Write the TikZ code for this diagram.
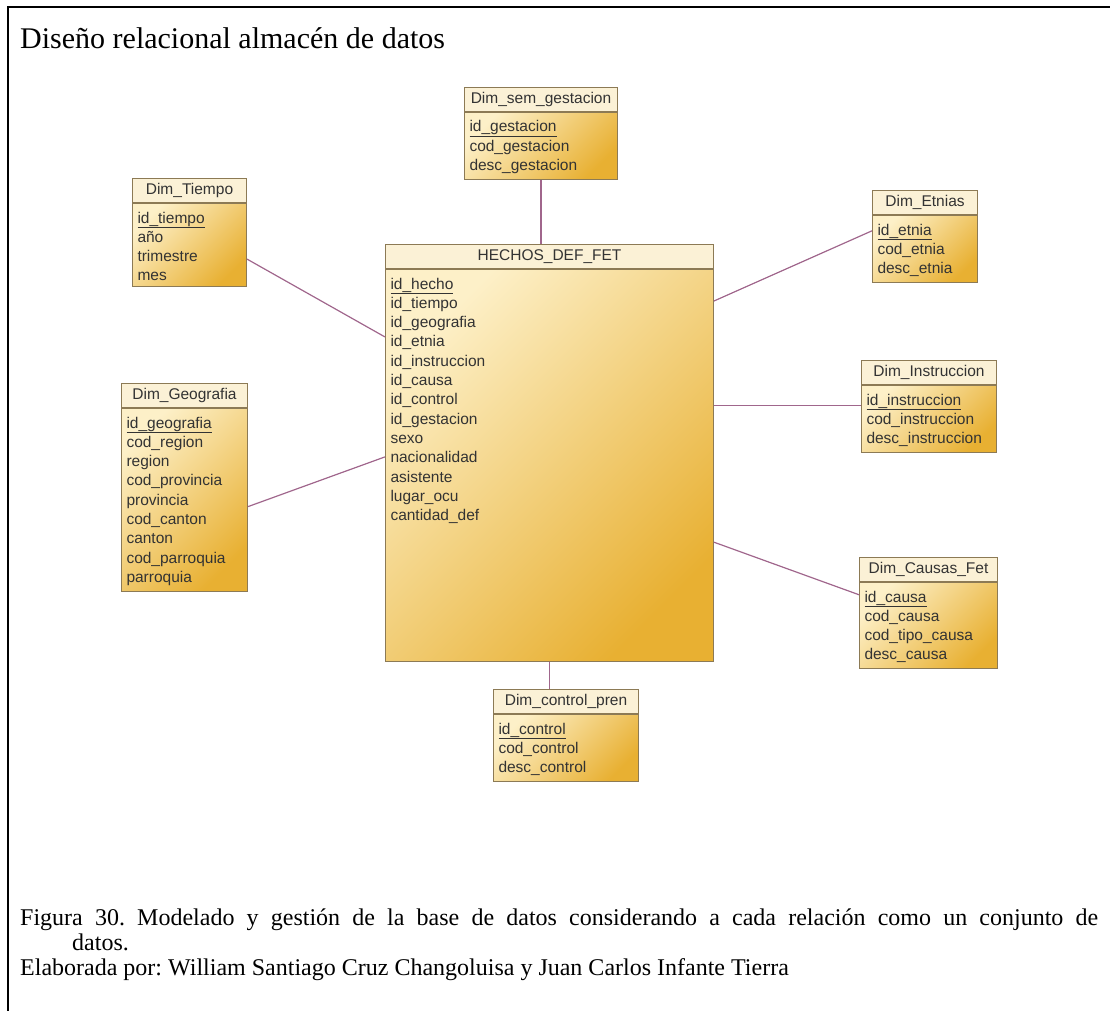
\documentclass[tikz,border=0pt]{standalone}
\usepackage{fontspec}
\setmainfont{Liberation Serif}
\newfontfamily\tablafont{Liberation Sans}
\usepackage{tikz}
\usetikzlibrary{positioning}
\definecolor{borde}{HTML}{8C7A55}
\definecolor{crema}{HTML}{FBF1D6}
\definecolor{oroclaro}{HTML}{FDF0C8}
\definecolor{orooscuro}{HTML}{E8B032}
\definecolor{lila}{HTML}{A0668C}
\definecolor{texto}{HTML}{333333}
\frenchspacing

\begin{document}
\begin{tikzpicture}[
    x=1pt, y=-1pt,
    cab/.style={draw=borde, fill=crema, line width=1pt, anchor=north west,
                minimum height=24pt, inner sep=0pt, text=texto,
                font=\tablafont\fontsize{15.5}{19.3}\selectfont},
    cuerpo/.style={draw=borde, line width=1pt, top color=oroclaro, bottom color=orooscuro,
                   shading angle=45, align=left, inner xsep=5pt, inner ysep=6pt,
                   text height=13.5pt, text=texto,
                   font=\tablafont\fontsize{15.5}{19.3}\selectfont},
    relacion/.style={draw=lila, line width=1.2pt},
    leyenda/.style={anchor=base west, inner sep=0pt, font=\fontsize{24}{25}\selectfont}
  ]
    \useasboundingbox (0,0) rectangle (1110,1011);
    \draw[line width=2.5pt] (8,1011) -- (8,7) -- (1110,7);

    \node[anchor=base west, inner sep=0pt, font=\fontsize{30}{36}\selectfont] (titulo) at (20,49)
      {Diseño relacional almacén de datos};

    \node[cab, minimum width=328pt] (hechos-cab) at (385,244) {HECHOS\_DEF\_FET};
    \node[cuerpo, below=0pt of hechos-cab, text width=318pt, text depth=366.5pt] (hechos)
      {\underline{id\_hecho}\\id\_tiempo\\id\_geografia\\id\_etnia\\id\_instruccion\\id\_causa\\
       id\_control\\id\_gestacion\\sexo\\nacionalidad\\asistente\\lugar\_ocu\\cantidad\_def};

    \node[cab, minimum width=153pt] (gest-cab) at (464,87) {Dim\_sem\_gestacion};
    \node[cuerpo, below=0pt of gest-cab, text width=143pt, text depth=41.6pt] (gest)
      {\underline{id\_gestacion}\\cod\_gestacion\\desc\_gestacion};

    \node[cab, minimum width=114pt] (tiempo-cab) at (132,178) {Dim\_Tiempo};
    \node[cuerpo, below=0pt of tiempo-cab, text width=104pt, text depth=57pt] (tiempo)
      {\underline{id\_tiempo}\\año\\trimestre\\mes};

    \node[cab, minimum width=105pt] (etnias-cab) at (872,190) {Dim\_Etnias};
    \node[cuerpo, below=0pt of etnias-cab, text width=95pt, text depth=41.6pt] (etnias)
      {\underline{id\_etnia}\\cod\_etnia\\desc\_etnia};

    \node[cab, minimum width=135pt] (instr-cab) at (861,360) {Dim\_Instruccion};
    \node[cuerpo, below=0pt of instr-cab, text width=125pt, text depth=41.6pt] (instr)
      {\underline{id\_instruccion}\\cod\_instruccion\\desc\_instruccion};

    \node[cab, minimum width=126pt] (geo-cab) at (121,383) {Dim\_Geografia};
    \node[cuerpo, below=0pt of geo-cab, text width=116pt, text depth=157.4pt] (geo)
      {\underline{id\_geografia}\\cod\_region\\region\\cod\_provincia\\provincia\\
       cod\_canton\\canton\\cod\_parroquia\\parroquia};

    \node[cab, minimum width=138pt] (causas-cab) at (859,557) {Dim\_Causas\_Fet};
    \node[cuerpo, below=0pt of causas-cab, text width=128pt, text depth=60.9pt] (causas)
      {\underline{id\_causa}\\cod\_causa\\cod\_tipo\_causa\\desc\_causa};

    \node[cab, minimum width=145pt] (control-cab) at (493,689) {Dim\_control\_pren};
    \node[cuerpo, below=0pt of control-cab, text width=135pt, text depth=41.6pt] (control)
      {\underline{id\_control}\\cod\_control\\desc\_control};

    \draw[relacion] (gest.south) -- (gest.south |- hechos-cab.north);
    \draw[relacion] (tiempo.-14) -- (hechos.142.2);
    \draw[relacion] (etnias.161.6) -- (hechos.45.5);
    \draw[relacion] (instr.169.5) -- (instr.169.5 -| hechos.east);
    \draw[relacion] (geo.-6) -- (hechos.177.9);
    \draw[relacion] (causas.156.4) -- (hechos.-25.7);
    \draw[relacion] (hechos.south) -- (hechos.south |- control-cab.north);

    \node[leyenda] (pie) at (20,925)
      {\makebox[1078pt][s]{Figura 30. Modelado y gestión de la base de datos considerando a cada relación como un conjunto de}};
    \node[leyenda] (pie2) at (72,950) {datos.};
    \node[leyenda] (autor) at (20,975)
      {Elaborada por: William Santiago Cruz Changoluisa y Juan Carlos Infante Tierra};
\end{tikzpicture}
\end{document}
